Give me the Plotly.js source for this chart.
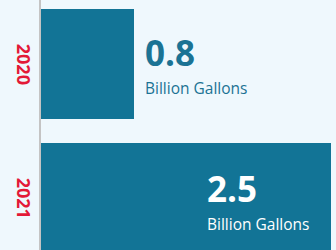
<!DOCTYPE html>
<html><head><meta charset="utf-8">
<script src="https://cdn.plot.ly/plotly-3.0.1.min.js"></script>
<style>html,body{margin:0;padding:0;background:#eff8fd;}#chart{width:336px;height:250px;}</style>
</head><body><div id="chart"></div>
<script>
const years = ['2020', '2021'];
const values = [0.8, 2.5];
const valueLabels = ['0.8', '2.5'];
const unitLabel = 'Billion Gallons';

const barColor = '#127496';
const insideThreshold = 1.5;

const trace = {
  type: 'bar',
  orientation: 'h',
  x: values,
  y: years,
  width: 0.82,
  marker: {color: barColor, line: {width: 0}},
  hoverinfo: 'skip',
  textposition: 'none'
};

const annotations = years.map((yr, i) => {
  const inside = values[i] > insideThreshold;
  return {
    x: values[i],
    y: i,
    xref: 'x',
    yref: 'y',
    xanchor: inside ? 'right' : 'left',
    yanchor: 'middle',
    xshift: inside ? -20 : 9,
    yshift: inside ? -2 : 0,
    align: 'left',
    showarrow: false,
    font: {family: 'Open Sans', size: 21.5, color: inside ? '#ffffff' : '#1b7394'},
    text: '<b><span style="font-size:35px">' + valueLabels[i] + '</span></b><br><span style="font-size:15.5px">' + unitLabel + '</span>'
  };
});

const layout = {
  width: 336,
  height: 250,
  margin: {l: 41, r: 5, t: 0, b: 0},
  paper_bgcolor: '#eff8fd',
  plot_bgcolor: '#eff8fd',
  showlegend: false,
  bargap: 0,
  xaxis: {range: [0, 2.5], visible: false, fixedrange: true},
  yaxis: {
    type: 'category',
    range: [1.388, -0.478],
    showline: true,
    linecolor: '#c4c4c4',
    linewidth: 2,
    showgrid: false,
    zeroline: false,
    ticks: '',
    tickangle: 90,
    ticklabelstandoff: 0,
    ticklabelshift: -3,
    tickfont: {family: 'Open Sans', size: 18, color: '#e31937', weight: 'bold'},
    fixedrange: true
  },
  annotations: annotations
};

Plotly.newPlot('chart', [trace], layout, {displayModeBar: false});
</script>
</body></html>
